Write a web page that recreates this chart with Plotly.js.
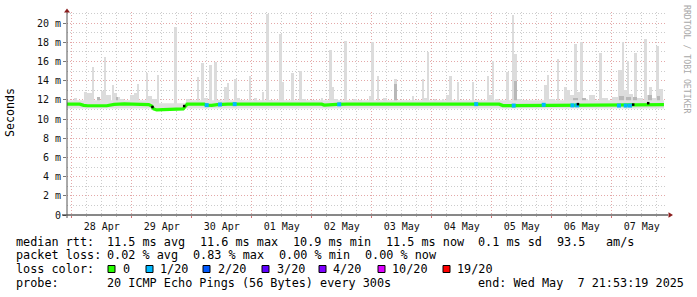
<!DOCTYPE html>
<html><head><meta charset="utf-8">
<script src="https://cdn.plot.ly/plotly-3.0.1.min.js"></script>
<style>html,body{margin:0;padding:0;background:#fff}#chart{width:697px;height:297px}</style>
</head><body><div id="chart"></div>
<script>
// ---------------- DATA (time in hours from 2025-04-28 00:00) ----------------
const viewHours = [-1.88, 238.12];

const medianHours = [-1.88, 3.2, 4.8, 6.4, 14.0, 15.4, 17.0, 21.0, 27.0, 30.8, 32.0, 32.8, 34.0, 38.4, 39.4, 44.6, 45.4, 46.2, 53.0, 53.8, 56.0, 58.2, 62.4, 100.0, 101.0, 105.0, 106.0, 110.0, 171.0, 172.5, 177.0, 178.5, 196.0, 197.0, 203.5, 204.5, 217.0, 218.0, 224.5, 225.5, 236.9];
const medianValues = [11.55, 11.55, 11.42, 11.38, 11.38, 11.46, 11.52, 11.58, 11.55, 11.5, 11.35, 11.05, 10.95, 10.97, 11.05, 11.06, 11.3, 11.55, 11.55, 11.45, 11.42, 11.5, 11.55, 11.55, 11.45, 11.45, 11.52, 11.55, 11.55, 11.4, 11.4, 11.48, 11.48, 11.42, 11.42, 11.47, 11.47, 11.4, 11.4, 11.48, 11.5];

const bandHours = [-1.88, 31.0, 32.4, 45.2, 46.4, 236.9];
const bandTop = [11.95, 11.95, 11.65, 11.65, 11.95, 11.95];
const bandBottom = 11.1;

const smokeHours = [1.5, 5.5, 7.0, 8.5, 10.9, 12.3, 13.3, 14.9, 16.5, 17.5, 18.7, 20.1, 24.1, 25.5, 26.5, 30.1, 31.3, 33.3, 34.5, 41.5, 46.5, 50.5, 52.3, 53.7, 55.5, 57.5, 58.9, 61.5, 62.5, 65.5, 66.7, 68.1, 71.3, 73.5, 76.5, 78.3, 79.7, 83.5, 84.5, 88.3, 91.5, 92.9, 96.5, 100.1, 103.5, 104.5, 105.9, 109.5, 113.3, 115.3, 119.3, 120.3, 122.5, 125.3, 129.5, 136.5, 140.5, 141.7, 142.5, 145.3, 148.5, 150.3, 151.5, 154.5, 160.5, 166.5, 167.5, 168.5, 170.1, 174.3, 176.5, 177.5, 178.9, 181.3, 189.7, 190.5, 192.1, 194.5, 197.5, 198.7, 200.1, 201.5, 202.7, 204.1, 205.7, 208.1, 211.5, 213.3, 217.3, 219.3, 220.5, 221.7, 222.5, 223.9, 225.5, 227.3, 229.5, 230.5, 231.5, 232.9, 234.3, 235.7];
const smokeTop = [12.2, 12.8, 12.7, 15.45, 12.3, 12.9, 16.5, 12.5, 13.5, 12.7, 12.3, 12.1, 12.5, 12.7, 13.6, 14.8, 12.4, 12.1, 14.6, 19.6, 12.1, 14.4, 15.8, 12.2, 15.6, 15.9, 12.0, 13.3, 13.8, 14.2, 12.2, 12.0, 14.5, 12.2, 12.8, 20.9, 12.0, 18.9, 13.9, 14.8, 15.0, 12.1, 12.0, 12.2, 17.2, 13.3, 12.1, 18.1, 12.1, 12.0, 12.4, 18.05, 14.5, 12.2, 14.2, 12.4, 14.2, 12.2, 17.0, 12.1, 12.1, 12.5, 14.5, 13.9, 13.9, 14.5, 12.5, 16.0, 12.1, 14.9, 20.8, 16.8, 12.1, 12.0, 13.5, 14.6, 12.1, 16.3, 13.3, 13.0, 12.5, 17.8, 12.8, 18.0, 12.1, 12.5, 16.9, 12.2, 12.3, 15.1, 18.05, 13.0, 16.0, 12.6, 16.9, 12.2, 18.3, 12.5, 13.3, 12.2, 17.6, 13.1];
const smokeSpan = [1.2, 1.2, 2.0, 0.8, 1.2, 1.2, 0.8, 2.0, 0.8, 1.2, 1.2, 1.6, 1.6, 1.2, 0.8, 0.8, 1.6, 2.0, 0.8, 1.2, 1.6, 0.8, 1.2, 1.6, 1.2, 1.2, 1.6, 1.2, 0.8, 1.2, 1.2, 1.6, 0.8, 1.2, 0.8, 1.0, 1.6, 1.2, 0.8, 1.0, 1.2, 1.6, 1.6, 0.8, 1.2, 0.8, 1.6, 1.2, 1.6, 1.6, 0.8, 1.2, 0.8, 1.6, 1.2, 0.8, 0.8, 1.2, 0.8, 0.8, 0.8, 1.2, 1.2, 0.8, 0.8, 0.8, 1.2, 0.8, 1.6, 1.2, 0.8, 1.2, 1.6, 2.4, 1.6, 0.8, 2.4, 0.8, 1.2, 1.2, 1.6, 1.2, 1.2, 1.2, 1.6, 2.4, 1.2, 2.4, 2.4, 1.6, 0.8, 1.2, 0.8, 1.6, 1.2, 2.4, 1.2, 0.8, 1.2, 1.6, 1.2, 1.6];
const smokeBase = 11.2;

const darkSmokeHours = [10.9, 18.2, 129.5, 177.5, 201.5, 205.0, 219.8, 222.8, 225.5, 231.5, 234.8];
const darkSmokeTop = [12.3, 12.3, 13.6, 14.0, 12.2, 12.2, 12.35, 12.25, 12.3, 12.55, 12.4];
const darkSmokeSpan = [1.2, 0.8, 1.2, 1.2, 2.0, 1.6, 2.0, 2.0, 1.6, 1.6, 1.2];

const lossHours = [54.0, 59.3, 65.2, 107.0, 161.8, 176.8, 188.8, 200.3, 202.2, 218.9, 221.6, 223.3];
const lossCount = [1, 1, 1, 1, 1, 1, 1, 1, 1, 1, 1, 1];

const blackHours = [32.3, 45.0, 202.5, 224.6, 230.6];
const blackValues = [11.25, 11.35, 11.55, 11.5, 11.65];

const lossLevels = [0, 1, 2, 3, 4, 10, 19];
const lossLabels = ['0', '1/20', '2/20', '3/20', '4/20', '10/20', '19/20'];
const lossColors = ['#26ff00', '#00b8ff', '#0059ff', '#5e00ff', '#7e00ff', '#dd00ff', '#ff0000'];

const yTickVals = [0, 2, 4, 6, 8, 10, 12, 14, 16, 18, 20];
const yTickText = ['0', '2 m', '4 m', '6 m', '8 m', '10 m', '12 m', '14 m', '16 m', '18 m', '20 m'];

const statsRtt = ['median rtt:', '11.5 ms avg', '11.6 ms max', '10.9 ms min', '11.5 ms now', '0.1 ms sd', '93.5', 'am/s'];
const statsLoss = ['packet loss:', '0.02 % avg', '0.83 % max', '0.00 % min', '0.00 % now'];
const probeText = ['probe:', '20 ICMP Echo Pings (56 Bytes) every 300s', 'end: Wed May  7 21:53:19 2025'];
const yTitle = 'Seconds';
const watermark = 'RRDTOOL / TOBI OETIKER';

// ---------------- helpers ----------------
const T0 = Date.UTC(2025, 3, 28, 0, 0, 0);
const H = 3600000;
function toDate(h) { return new Date(T0 + h * H).toISOString().replace('T', ' ').slice(0, 19); }
function interpMedian(h) {
  for (let i = 1; i < medianHours.length; i++) {
    if (h <= medianHours[i]) {
      const a = medianHours[i - 1], b = medianHours[i];
      const t = (h - a) / (b - a);
      return medianValues[i - 1] + t * (medianValues[i] - medianValues[i - 1]);
    }
  }
  return medianValues[medianValues.length - 1];
}
// plot area in page pixels
const L = 67, R = 667, TOP = 12, BOT = 215;
const px = x => (x - L) / (R - L);
const py = y => (BOT - y) / (BOT - TOP);
const MONO = 'DejaVu Sans Mono';

// ---------------- traces ----------------
const traces = [];
traces.push({ type: 'scatter', mode: 'lines', x: bandHours.map(toDate), y: bandHours.map(() => bandBottom),
  line: { width: 0, color: 'rgba(0,0,0,0)' }, hoverinfo: 'skip' });
traces.push({ type: 'scatter', mode: 'lines', x: bandHours.map(toDate), y: bandTop, fill: 'tonexty',
  fillcolor: '#e0e0e0', line: { width: 0, color: 'rgba(0,0,0,0)' }, hoverinfo: 'skip' });
traces.push({ type: 'bar', x: smokeHours.map(toDate), y: smokeTop.map(v => v - smokeBase), base: smokeBase,
  width: smokeSpan.map(s => s * H), marker: { color: '#dcdcdc', line: { width: 0 } }, hoverinfo: 'skip' });
traces.push({ type: 'bar', x: darkSmokeHours.map(toDate), y: darkSmokeTop.map(v => v - smokeBase), base: smokeBase,
  width: darkSmokeSpan.map(s => s * H), marker: { color: '#b8b8b8', line: { width: 0 } }, hoverinfo: 'skip' });
traces.push({ type: 'scatter', mode: 'lines', x: medianHours.map(toDate), y: medianValues,
  line: { color: lossColors[0], width: 3.2 }, hoverinfo: 'skip' });
traces.push({ type: 'scatter', mode: 'markers', x: lossHours.map(toDate), y: lossHours.map(interpMedian),
  marker: { symbol: 'square', size: 4, color: lossCount.map(c => lossColors[lossLevels.indexOf(c)]), line: { width: 0 } }, hoverinfo: 'skip' });
traces.push({ type: 'scatter', mode: 'markers', x: blackHours.map(toDate), y: blackValues,
  marker: { symbol: 'square', size: 2.5, color: '#000', line: { width: 0 } }, hoverinfo: 'skip' });

// ---------------- annotations & shapes ----------------
const ann = [];
const shapes = [];
function txt(t, x, y, size, extra) {
  ann.push(Object.assign({ xref: 'paper', yref: 'paper', x: px(x), y: py(y), xanchor: 'left', yanchor: 'middle',
    text: t, showarrow: false, borderpad: 0, font: { family: MONO, size: size, color: '#000' } }, extra || {}));
}
const LEG = 11.8;
const rttX = [15, 106, 199, 292, 385, 477, 556, 605];
statsRtt.forEach((t, i) => txt(t, rttX[i], 241.5, LEG));
const lossX = [15, 106, 192, 278, 364];
statsLoss.forEach((t, i) => txt(t, lossX[i], 255.2, LEG));
txt('loss color:', 15, 269, LEG);
const boxX = [108, 146, 203, 262, 319, 378, 443];
const labX = [122, 159, 217, 276, 332, 391, 456];
lossLabels.forEach((t, i) => {
  shapes.push({ type: 'rect', xref: 'paper', yref: 'paper', x0: px(boxX[i]), x1: px(boxX[i] + 7),
    y0: py(272.5), y1: py(265.5), fillcolor: lossColors[i], line: { color: '#000', width: 1 }, layer: 'above' });
  txt(t, labX[i], 269, LEG);
});
const probeX = [15, 106, 477];
probeText.forEach((t, i) => txt(t, probeX[i], 282.8, LEG));

ann.push({ xref: 'paper', yref: 'paper', x: px(10), y: py(113), xanchor: 'center', yanchor: 'middle',
  text: yTitle, textangle: -90, showarrow: false, font: { family: MONO, size: 11.6, color: '#000' } });
ann.push({ xref: 'paper', yref: 'paper', x: px(687), y: py(59), xanchor: 'center', yanchor: 'middle',
  text: watermark, textangle: 90, showarrow: false, font: { family: MONO, size: 8.2, color: '#a8a8a8' } });

// axis lines and arrows
shapes.push({ type: 'line', xref: 'paper', yref: 'paper', x0: px(62), x1: px(668), y0: 0, y1: 0, line: { color: '#111', width: 1 }, layer: 'above' });
shapes.push({ type: 'line', xref: 'paper', yref: 'paper', x0: 0, x1: 0, y0: py(218), y1: py(12), line: { color: '#555', width: 1 }, layer: 'above' });
shapes.push({ type: 'path', xref: 'paper', yref: 'paper', layer: 'above',
  path: `M ${px(64)},${py(12.6)} L ${px(70)},${py(12.6)} L ${px(67)},${py(8.6)} Z`, fillcolor: '#8b1e1e', line: { width: 0 } });
shapes.push({ type: 'path', xref: 'paper', yref: 'paper', layer: 'above',
  path: `M ${px(668.5)},${py(212.2)} L ${px(668.5)},${py(217.8)} L ${px(673)},${py(215)} Z`, fillcolor: '#8b1e1e', line: { width: 0 } });

// ---------------- layout ----------------
const layout = {
  width: 697, height: 297,
  margin: { l: L, r: 697 - R, t: TOP, b: 297 - BOT, pad: 0 },
  paper_bgcolor: '#ffffff', plot_bgcolor: '#ffffff',
  showlegend: false, barmode: 'overlay', bargap: 0,
  xaxis: {
    type: 'date', range: [toDate(viewHours[0]), toDate(viewHours[1])],
    tickmode: 'linear', tick0: toDate(0), dtick: 86400000, ticklabelmode: 'period', tickformat: '%d %b',
    showgrid: true, gridcolor: 'rgba(210,110,110,0.6)', griddash: '1px,2px', gridwidth: 1,
    ticks: 'outside', ticklen: 2, tickcolor: 'rgba(200,80,80,0.8)',
    minor: { dtick: 21600000, tick0: toDate(0), showgrid: true, gridcolor: 'rgba(0,0,0,0.2)', griddash: '1px,2px', ticks: 'outside', ticklen: 1, tickcolor: '#bbb' },
    showline: false, zeroline: false,
    tickfont: { family: MONO, size: 10, color: '#111' }, fixedrange: true
  },
  yaxis: {
    range: [0, 21.15], tickmode: 'array', tickvals: yTickVals, ticktext: yTickText,
    showgrid: true, gridcolor: 'rgba(210,110,110,0.6)', griddash: '1px,2px', gridwidth: 1,
    ticks: 'outside', ticklen: 3, tickcolor: '#777',
    minor: { tickmode: 'array', tickvals: [1, 3, 5, 7, 9, 11, 13, 15, 17, 19, 21], showgrid: true, gridcolor: 'rgba(0,0,0,0.2)', griddash: '1px,2px' },
    showline: false, zeroline: false,
    tickfont: { family: MONO, size: 10, color: '#111' }, fixedrange: true
  },
  annotations: ann,
  shapes: shapes
};

Plotly.newPlot('chart', traces, layout, { staticPlot: true, displayModeBar: false });
</script>
</body></html>
